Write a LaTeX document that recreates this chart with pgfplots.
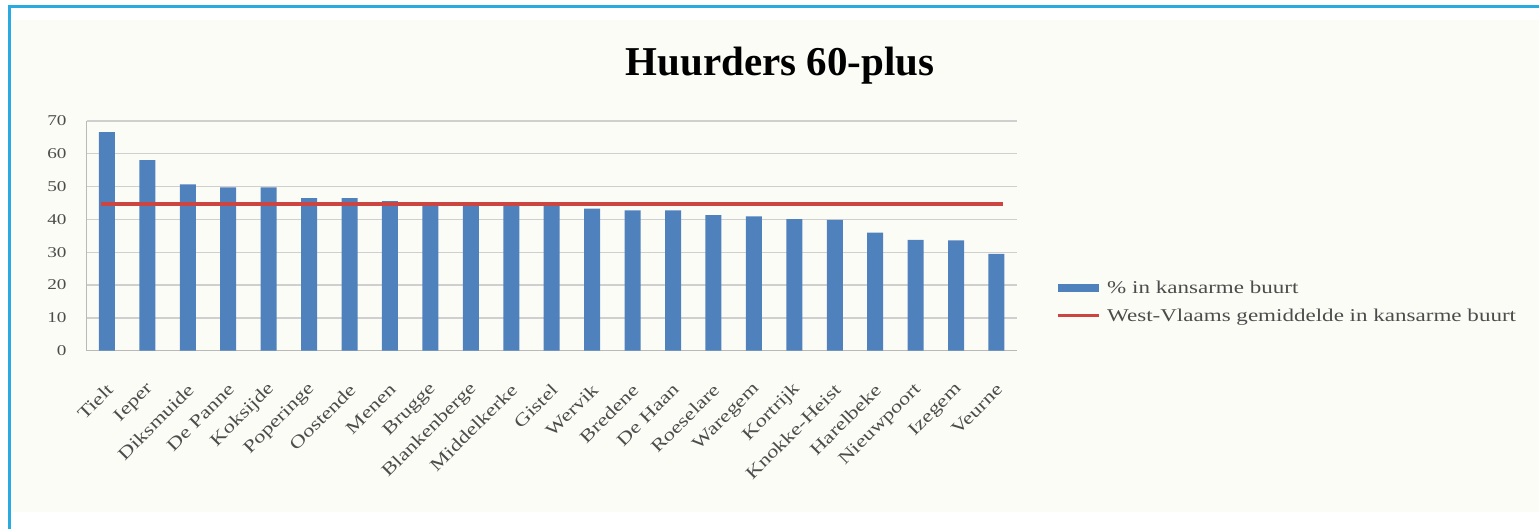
\documentclass[border=0pt]{standalone}
\usepackage{fontspec}
\setmainfont{Liberation Serif}
\newfontfamily\wfont[FakeStretch=1.28]{Liberation Serif}
\usepackage{pgfplots}
\usepackage{pgfplotstable}
\pgfplotsset{compat=1.18}
\definecolor{barblue}{HTML}{4F81BD}
\definecolor{avgred}{HTML}{CC4540}
\definecolor{frameblue}{HTML}{29ABE2}
\definecolor{gridgray}{HTML}{CFCFCF}
\definecolor{bgcol}{HTML}{FCFCF7}
\pgfplotstableread[col sep=comma]{
x,name,val
0,Tielt,66.6
1,Ieper,58.1
2,Diksmuide,50.7
3,De Panne,49.8
4,Koksijde,49.8
5,Poperinge,46.5
6,Oostende,46.5
7,Menen,45.6
8,Brugge,45.3
9,Blankenberge,44.6
10,Middelkerke,44.5
11,Gistel,44.3
12,Wervik,43.3
13,Bredene,42.8
14,De Haan,42.8
15,Roeselare,41.3
16,Waregem,40.9
17,Kortrijk,40.1
18,Knokke-Heist,39.9
19,Harelbeke,36.0
20,Nieuwpoort,33.8
21,Izegem,33.6
22,Veurne,29.5
}\bars
\pgfplotstableread[col sep=comma]{
x,val
-0.15,44.7
22.15,44.7
}\avg
\begin{document}
\begin{tikzpicture}
\begin{scope}[x=1pt,y=1pt,shift={(-86.7pt,-178.3pt)}]
\useasboundingbox (0,0) rectangle (1539,529);
\fill[bgcol] (12,17) rectangle (1539,509);
\draw[frameblue, line width=3pt] (8,522.5) -- (1539,522.5);
\draw[frameblue, line width=3pt] (9.5,524) -- (9.5,0);
\end{scope}
\begin{axis}[
  at={(0pt,0pt)}, anchor=south west,
  scale only axis, width=930pt, height=229.7pt,
  xmin=-0.5, xmax=22.5, ymin=0, ymax=70,
  ytick={0,10,...,70},
  xtick=data,
  xticklabels from table={\bars}{name},
  axis x line*=bottom, axis y line*=left,
  axis line style={draw=gray!55, line width=1pt},
  major tick length=0pt,
  ymajorgrids, grid style={draw=gridgray, line width=1.3pt},
  /pgf/number format/assume math mode=true,
  yticklabel style={font=\wfont\fontsize{15}{15}\selectfont, text=black!70, anchor=east, inner sep=0pt, xshift=-20pt},
  xticklabel style={font=\wfont\fontsize{17.6}{17.6}\selectfont, text=black!70, inner sep=0pt, xshift=3pt, yshift=-36pt, rotate=45, anchor=east},
  title={Huurders 60-plus},
  title style={font=\bfseries\fontsize{41}{41}\selectfont, at={(0.7455,1.170)}, anchor=base, inner sep=0pt},
  legend style={draw=none, fill=none, at={(1.039,0.212)}, anchor=west,
    font=\wfont\fontsize{18}{18}\selectfont, text=black!70, row sep=14pt,
    nodes={inner sep=0pt},
    /tikz/every odd column/.append style={column sep=7pt}},
  legend cell align=left,
]
\addplot[ybar, bar width=16pt, fill=barblue, draw=none,
  legend image code/.code={\fill[barblue] (0pt,-4pt) rectangle (41pt,4pt);}]
  table[x=x, y=val] {\bars};
\addlegendentry{\% in kansarme buurt}
\addplot[avgred, line width=3.5pt, no marks,
  legend image code/.code={\draw[avgred, line width=3pt] (0pt,0pt) -- (41pt,0pt);}]
  table[x=x, y=val] {\avg};
\addlegendentry{West-Vlaams gemiddelde in kansarme buurt}
\end{axis}
\end{tikzpicture}
\end{document}
